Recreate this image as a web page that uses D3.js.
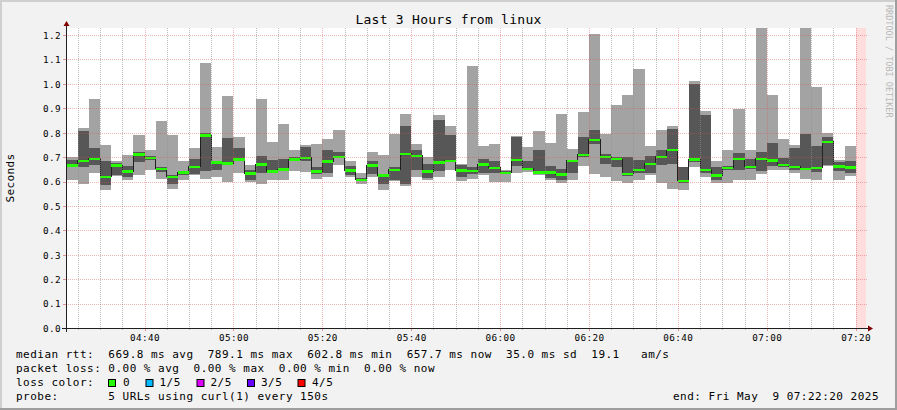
<!DOCTYPE html>
<html><head><meta charset="utf-8">
<script src="https://cdn.jsdelivr.net/npm/d3@7"></script>
<style>
html,body{margin:0;padding:0;background:#f2f2f2;}
svg{display:block;}
text{font-family:"DejaVu Sans Mono",monospace;fill:#000;}
</style></head><body>
<svg id="chart" width="897" height="410"></svg>
<script>
// ---------------- data ----------------
const title = "Last 3 Hours from linux";
const yAxisLabel = "Seconds";
const watermark = "RRDTOOL / TOBI OETIKER";
const rangeStart = "2025-05-09 04:22:20";
const rangeEnd = "2025-05-09 07:22:20";
const firstBarStart = "2025-05-09 04:22:30";
const stepSeconds = 150;
const yTicks = [0.0,0.1,0.2,0.3,0.4,0.5,0.6,0.7,0.8,0.9,1.0,1.1,1.2];
const xMajorTicks = ["04:40","05:00","05:20","05:40","06:00","06:20","06:40","07:00","07:20"];
const noDataStart = "2025-05-09 07:20:00";

// smoke band values in seconds, one per 150 s step (5 pings sorted: min, 2nd, median, 4th, max)
const minV = [0.605,0.588,0.634,0.565,0.622,0.605,0.625,0.649,0.610,0.571,0.608,0.626,0.612,0.620,0.597,0.633,0.597,0.588,0.605,0.605,
0.642,0.638,0.612,0.618,0.667,0.619,0.588,0.619,0.567,0.601,0.581,0.618,0.608,0.618,0.649,0.601,0.611,0.626,0.597,0.597,
0.634,0.638,0.626,0.608,0.592,0.605,0.663,0.629,0.618,0.601,0.592,0.608,0.626,0.592,0.571,0.565,0.661,0.618,0.592,0.592,
0.608,0.608,0.629,0.649,0.649,0.634,0.612,0.605,0.663,0.608,0.622];
const p2V = [0.659,0.659,0.667,0.584,0.625,0.620,0.679,0.687,0.638,0.588,0.626,0.629,0.641,0.649,0.672,0.683,0.608,0.635,0.633,0.645,
0.683,0.683,0.631,0.634,0.697,0.626,0.601,0.629,0.588,0.608,0.588,0.649,0.615,0.642,0.679,0.618,0.629,0.634,0.635,0.633,
0.665,0.649,0.631,0.615,0.608,0.634,0.699,0.755,0.673,0.659,0.622,0.635,0.634,0.669,0.673,0.592,0.680,0.634,0.608,0.646,
0.646,0.653,0.642,0.665,0.659,0.649,0.646,0.638,0.669,0.642,0.633];
const medV = [0.667,0.684,0.694,0.619,0.667,0.642,0.712,0.698,0.653,0.620,0.637,0.660,0.789,0.679,0.675,0.691,0.634,0.671,0.642,0.650,
0.691,0.697,0.642,0.683,0.702,0.646,0.607,0.667,0.625,0.649,0.713,0.705,0.642,0.678,0.686,0.646,0.644,0.671,0.656,0.635,
0.688,0.653,0.638,0.638,0.629,0.684,0.710,0.770,0.702,0.692,0.631,0.648,0.673,0.702,0.729,0.603,0.691,0.648,0.626,0.656,
0.692,0.661,0.694,0.687,0.669,0.660,0.652,0.657,0.762,0.663,0.658];
const p4V = [0.690,0.805,0.739,0.686,0.676,0.665,0.722,0.703,0.659,0.627,0.641,0.691,0.797,0.686,0.780,0.739,0.646,0.706,0.690,0.692,
0.701,0.743,0.660,0.731,0.722,0.665,0.615,0.686,0.631,0.660,0.829,0.727,0.672,0.852,0.792,0.669,0.660,0.692,0.686,0.642,
0.784,0.682,0.731,0.665,0.653,0.686,0.784,0.811,0.714,0.702,0.702,0.690,0.706,0.731,0.816,0.660,1.000,0.873,0.661,0.664,
0.718,0.694,0.722,0.759,0.698,0.739,0.796,0.747,0.784,0.679,0.682];
const maxV = [0.702,0.819,0.939,0.751,0.683,0.710,0.792,0.727,0.846,0.792,0.683,0.739,1.087,0.743,0.951,0.784,0.669,0.939,0.763,0.837,
0.727,0.751,0.755,0.776,0.812,0.686,0.635,0.722,0.710,0.793,0.878,0.755,0.702,0.873,0.829,0.673,1.073,0.747,0.755,0.646,
0.788,0.743,0.808,0.759,0.878,0.733,0.886,1.204,0.796,0.914,0.955,1.061,0.747,0.811,0.829,0.660,1.012,0.890,0.683,0.727,
0.898,0.727,1.300,0.955,0.776,0.751,1.350,0.988,0.800,0.690,0.747];

const legendLines = [
  "median rtt:  669.8 ms avg  789.1 ms max  602.8 ms min  657.7 ms now  35.0 ms sd  19.1   am/s",
  "packet loss: 0.00 % avg  0.00 % max  0.00 % min  0.00 % now",
  "loss color:",
  "probe:       5 URLs using curl(1) every 150s"
];
const lossLabels = ["0","1/5","2/5","3/5","4/5"];
const lossColors = ["#26ff00","#00b8ff","#dd00ff","#6600ff","#ff0000"];
const endText = "end: Fri May  9 07:22:20 2025";

// ---------------- drawing ----------------
const W = 897, H = 410;
const plot = {left: 66, right: 866, top: 28, bottom: 328};
const parse = d3.timeParse("%Y-%m-%d %H:%M:%S");
const t0 = parse(rangeStart), t1 = parse(rangeEnd);
const x = d3.scaleTime().domain([t0, t1]).range([plot.left, plot.right]);
const y = d3.scaleLinear().domain([0, 1.2287]).range([plot.bottom, plot.top]);

const barStart0 = parse(firstBarStart);
const bars = medV.map((m, i) => ({
  s: d3.timeSecond.offset(barStart0, i * stepSeconds),
  e: d3.timeSecond.offset(barStart0, (i + 1) * stepSeconds),
  min: minV[i], p2: p2V[i], med: m, p4: p4V[i], max: maxV[i]
}));

const svg = d3.select("#chart");
// background and bevel frame
svg.append("rect").attr("x",0).attr("y",0).attr("width",W).attr("height",H).attr("fill","#f2f2f2");
svg.append("rect").attr("x",0).attr("y",0).attr("width",W).attr("height",2).attr("fill","#cfcfcf");
svg.append("rect").attr("x",0).attr("y",0).attr("width",2).attr("height",H).attr("fill","#cfcfcf");
svg.append("rect").attr("x",0).attr("y",H-2).attr("width",W).attr("height",2).attr("fill","#9e9e9e");
svg.append("rect").attr("x",W-2).attr("y",0).attr("width",2).attr("height",H).attr("fill","#9e9e9e");

// canvas
svg.append("rect").attr("x",plot.left).attr("y",plot.top)
  .attr("width",plot.right-plot.left).attr("height",plot.bottom-plot.top).attr("fill","#ffffff");

svg.append("clipPath").attr("id","clip").append("rect")
  .attr("x",plot.left).attr("y",plot.top).attr("width",plot.right-plot.left).attr("height",plot.bottom-plot.top);
const g = svg.append("g").attr("clip-path","url(#clip)");

// no data region
const nd = parse(noDataStart);
g.append("rect").attr("x",x(nd)).attr("y",plot.top).attr("width",x(t1)-x(nd))
  .attr("height",plot.bottom-plot.top).attr("fill","#ffdddd").attr("shape-rendering","crispEdges");

// smoke
g.selectAll("rect.outer").data(bars).join("rect").attr("class","outer")
  .attr("x",d=>x(d.s)).attr("width",d=>x(d.e)-x(d.s))
  .attr("y",d=>y(d.max)).attr("height",d=>y(d.min)-y(d.max))
  .attr("fill","#a3a3a3").attr("shape-rendering","crispEdges");
g.selectAll("rect.inner").data(bars).join("rect").attr("class","inner")
  .attr("x",d=>x(d.s)).attr("width",d=>x(d.e)-x(d.s))
  .attr("y",d=>y(d.p4)).attr("height",d=>y(d.p2)-y(d.p4))
  .attr("fill","#575757").attr("shape-rendering","crispEdges");

// median step line
const stepPts = bars.map(d=>[x(d.s), y(d.med)]);
stepPts.push([x(bars[bars.length-1].e), y(bars[bars.length-1].med)]);
g.append("path").attr("d", d3.line().curve(d3.curveStepAfter)(stepPts))
  .attr("fill","none").attr("stroke","#202020").attr("stroke-width",1).attr("shape-rendering","crispEdges");
g.selectAll("rect.med").data(bars).join("rect").attr("class","med")
  .attr("x",d=>x(d.s)).attr("width",d=>x(d.e)-x(d.s))
  .attr("y",d=>y(d.med)-1).attr("height",2.4)
  .attr("fill",lossColors[0]).attr("shape-rendering","crispEdges");

// grid (on top)
const minorColor = "rgba(143,143,143,0.6)";
const majorColor = "rgba(222,79,79,0.42)";
const minorTimes = d3.timeMinute.every(5).range(t0, t1);
const majorTimes = xMajorTicks.map(s => parse("2025-05-09 " + s + ":00"));
const isMajor = t => t.getMinutes() % 20 === 0;
const grid = svg.append("g");
grid.selectAll("line.vmin").data(minorTimes.filter(t=>!isMajor(t))).join("line")
  .attr("x1",d=>Math.round(x(d))+0.5).attr("x2",d=>Math.round(x(d))+0.5)
  .attr("y1",plot.top).attr("y2",plot.bottom)
  .attr("stroke",minorColor).attr("stroke-dasharray","1,1");
grid.selectAll("line.vmaj").data(majorTimes).join("line")
  .attr("x1",d=>Math.round(x(d))+0.5).attr("x2",d=>Math.round(x(d))+0.5)
  .attr("y1",plot.top).attr("y2",plot.bottom)
  .attr("stroke",majorColor).attr("stroke-dasharray","1,1");
grid.selectAll("line.h").data(yTicks.slice(1)).join("line")
  .attr("x1",plot.left).attr("x2",plot.right+2)
  .attr("y1",d=>Math.round(y(d))+0.5).attr("y2",d=>Math.round(y(d))+0.5)
  .attr("stroke",majorColor).attr("stroke-dasharray","1,1");

// small ticks
grid.selectAll("line.tmin").data(minorTimes.filter(t=>!isMajor(t))).join("line")
  .attr("x1",d=>Math.round(x(d))+0.5).attr("x2",d=>Math.round(x(d))+0.5)
  .attr("y1",plot.bottom).attr("y2",plot.bottom+2).attr("stroke",minorColor);
grid.selectAll("line.tmaj").data(majorTimes).join("line")
  .attr("x1",d=>Math.round(x(d))+0.5).attr("x2",d=>Math.round(x(d))+0.5)
  .attr("y1",plot.bottom).attr("y2",plot.bottom+3).attr("stroke","rgba(222,79,79,0.6)");
grid.selectAll("line.ty").data(yTicks).join("line")
  .attr("x1",plot.left-3).attr("x2",plot.left)
  .attr("y1",d=>Math.round(y(d))+0.5).attr("y2",d=>Math.round(y(d))+0.5)
  .attr("stroke","rgba(222,79,79,0.6)");

// axes labels via d3 axes
const xAxis = d3.axisBottom(x).tickValues(majorTimes).tickFormat(d3.timeFormat("%H:%M")).tickSize(0).tickPadding(6);
const gx = svg.append("g").attr("transform",`translate(0,${plot.bottom})`).call(xAxis);
gx.select(".domain").remove();
gx.selectAll("text").style("font-family","DejaVu Sans Mono").style("font-size","9.3px")
  .style("letter-spacing","0.4px").attr("fill","#000");

const yAxis = d3.axisLeft(y).tickValues(yTicks).tickFormat(d3.format(".1f")).tickSize(0).tickPadding(5);
const gy = svg.append("g").attr("transform",`translate(${plot.left},0)`).call(yAxis);
gy.select(".domain").remove();
gy.selectAll("text").style("font-family","DejaVu Sans Mono").style("font-size","9.3px")
  .style("letter-spacing","0.4px").attr("fill","#000").attr("dy","0.36em");

// axis lines + arrows
svg.append("line").attr("x1",plot.left-4).attr("x2",plot.right+4).attr("y1",plot.bottom+0.5).attr("y2",plot.bottom+0.5)
  .attr("stroke","#1f1f1f");
svg.append("line").attr("x1",plot.left+0.5).attr("x2",plot.left+0.5).attr("y1",plot.bottom+4).attr("y2",plot.top-4)
  .attr("stroke","#1f1f1f");
svg.append("path").attr("d",`M${plot.right+2},${plot.bottom-2.5}L${plot.right+2},${plot.bottom+3.5}L${plot.right+7},${plot.bottom+0.5}Z`)
  .attr("fill","#800000");
svg.append("path").attr("d",`M${plot.left-2.5},${plot.top-2}L${plot.left+3.5},${plot.top-2}L${plot.left+0.5},${plot.top-7}Z`)
  .attr("fill","#800000");

// title
svg.append("text").attr("x",W/2).attr("y",24).attr("text-anchor","middle")
  .style("font-size","13px").style("letter-spacing","0.27px").text(title);
// y label
svg.append("text").attr("transform",`translate(14,${(plot.top+plot.bottom)/2}) rotate(-90)`)
  .attr("text-anchor","middle").style("font-size","11px").style("letter-spacing","0.4px").text(yAxisLabel);
// watermark
svg.append("text").attr("transform","translate(886,5) rotate(90)")
  .style("font-size","8.5px").style("fill","#b8b8b8").text(watermark);

// legend
const lg = svg.append("g").style("font-size","11px").style("letter-spacing","0.48px");
lg.selectAll("text.leg").data(legendLines).join("text").attr("class","leg")
  .attr("x",16).attr("y",(d,i)=>358+i*14).attr("xml:space","preserve").style("white-space","pre").text(d=>d);
const boxX = [108, 145.5, 196.5, 247, 297.5];
const labX = [123, 159.5, 210.5, 261, 312];
lg.selectAll("rect.box").data(lossColors).join("rect").attr("class","box")
  .attr("x",(d,i)=>boxX[i]+0.5).attr("y",379.5).attr("width",7).attr("height",7)
  .attr("fill",d=>d).attr("stroke","#000").attr("stroke-width",1);
lg.selectAll("text.lab").data(lossLabels).join("text").attr("class","lab")
  .attr("x",(d,i)=>labX[i]).attr("y",386).text(d=>d);
lg.append("text").attr("x",879).attr("y",400).attr("text-anchor","end")
  .attr("xml:space","preserve").style("white-space","pre").text(endText);
</script>
</body></html>
